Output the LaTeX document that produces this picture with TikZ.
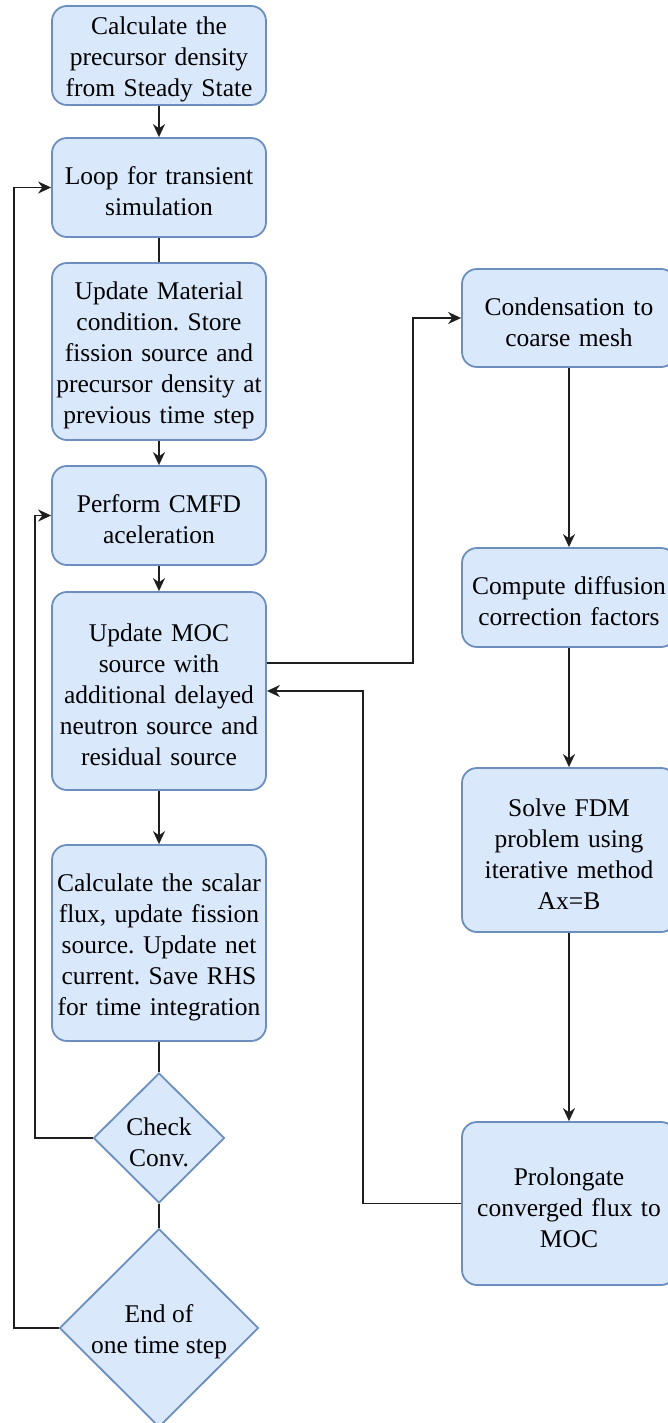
\documentclass[tikz,border=0pt]{standalone}
\usepackage{fontspec}
\setmainfont{Liberation Serif}
\frenchspacing
\definecolor{boxfill}{HTML}{DAE8FC}
\definecolor{boxline}{HTML}{6C8EBF}
\definecolor{wire}{RGB}{30, 30, 30}
\usetikzlibrary{shapes, arrows.meta, positioning, calc}

\begin{document}
\begin{tikzpicture}[
  x=1pt, y=-1pt,
  stepbox/.style={draw=boxline, fill=boxfill, line width=1.8pt, rounded corners=15pt, text width=212pt, minimum width=214pt, align=center, inner sep=1pt, font=\fontsize{25.5}{31}\selectfont, execute at begin node={\rule{0pt}{26pt}}},
  decision/.style={diamond, draw=boxline, fill=boxfill, line width=1.8pt, inner sep=0pt, align=center, font=\fontsize{25.5}{31}\selectfont},
  wireline/.style={draw=wire, line width=1.8pt},
  flow/.style={wireline, -{Stealth[length=13pt, width=12pt]}}
]
  \useasboundingbox (0,0) rectangle (668,1423);
  \clip (0,0) rectangle (668,1423);

  % left column
  \node[stepbox, minimum height=99pt] (calc) at (159, 55.5) {Calculate the\\ precursor density\\ from Steady State};
  \node[stepbox, minimum height=99pt] (loop) at (159, 187.5) {Loop for transient\\ simulation};
  \node[stepbox, minimum height=177pt] (update) at (159, 351.5) {Update Material\\ condition. Store\\ fission source and\\ precursor density at\\ previous time step};
  \node[stepbox, minimum height=99pt] (cmfd) at (159, 515.5) {Perform CMFD\\ aceleration};
  \node[stepbox, minimum height=198pt] (moc) at (159, 691) {Update MOC\\ source with\\ additional delayed\\ neutron source and\\ residual source};
  \node[stepbox, minimum height=196pt] (scalar) at (159, 943) {Calculate the scalar\\ flux, update fission\\ source. Update net\\ current. Save RHS\\ for time integration};
  \node[decision, minimum width=131pt, minimum height=130pt] (check) at (159, 1138) {\rule{0pt}{26pt}Check\\ Conv.};
  \node[decision, minimum width=199pt, minimum height=196pt] (endstep) at (159, 1328) {\rule{0pt}{26pt}End of\\ one time step};

  % right column
  \node[stepbox, minimum height=98pt] (cond) at (569, 318) {Condensation to\\ coarse mesh};
  \node[stepbox, minimum height=99pt] (diff) at (569, 597.5) {Compute diffusion\\ correction factors};
  \node[stepbox, minimum height=164pt] (fdm) at (569, 850) {Solve FDM\\ problem using\\ iterative method\\ Ax=B};
  \node[stepbox, minimum height=163pt] (prolong) at (569, 1203.5) {Prolongate\\ converged flux to\\ MOC};

  % main flow
  \draw[flow] (calc) -- (loop);
  \draw[wireline] (loop) -- (update);
  \draw[flow] (update) -- (cmfd);
  \draw[flow] (cmfd) -- (moc);
  \draw[flow] (moc) -- (scalar);
  \draw[wireline] (scalar) -- (check);
  \draw[wireline] (check) -- (endstep);

  % CMFD branch
  \draw[flow] ([yshift=28pt]moc.east) -- ++(146,0) |- (cond.west);
  \draw[flow] (cond) -- (diff);
  \draw[flow] (diff) -- (fdm);
  \draw[flow] (fdm) -- (prolong);
  \draw[flow] (prolong.west) -- ++(-98,0) |- (moc.east);

  % loops back
  \draw[flow] (check.west) -- ++(-58,0) |- (cmfd.west);
  \draw[flow] (endstep.west) -- ++(-45,0) |- (loop.west);
\end{tikzpicture}
\end{document}
